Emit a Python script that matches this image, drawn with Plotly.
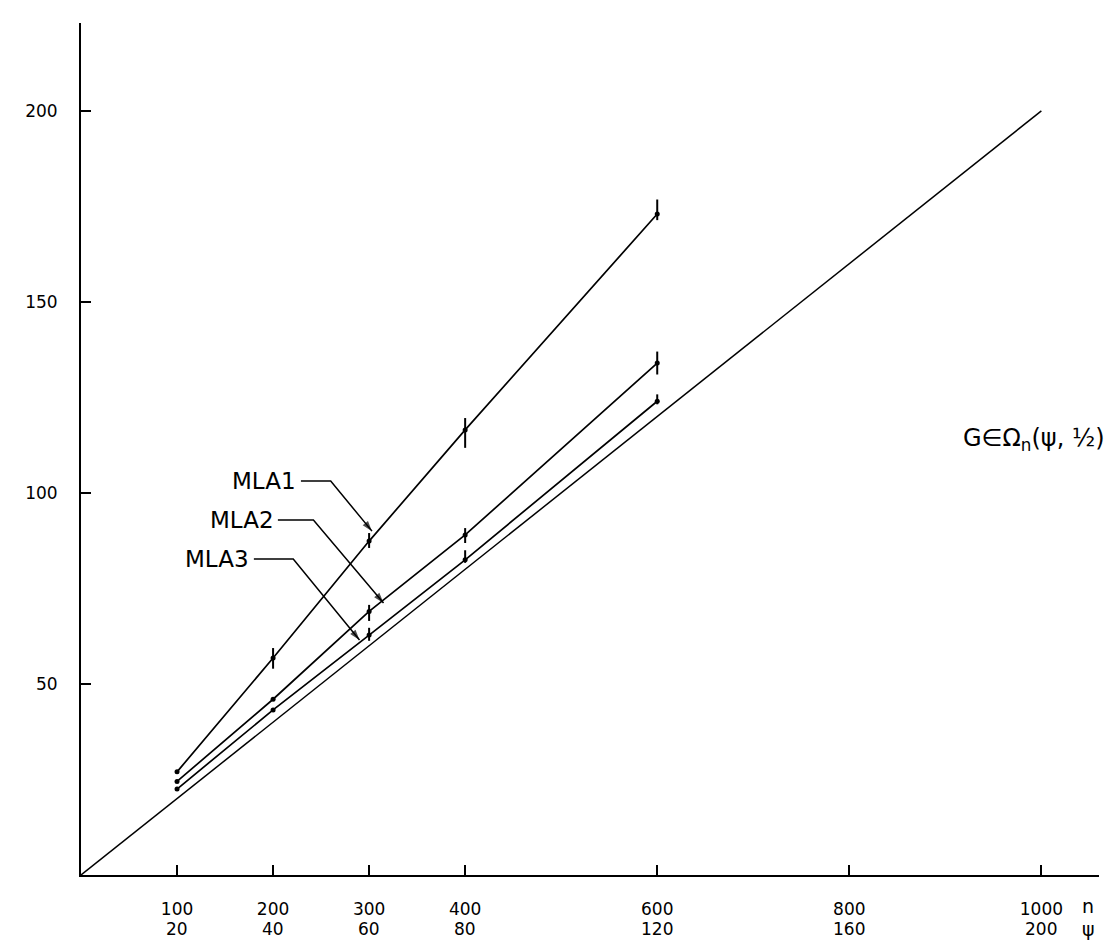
import plotly.graph_objects as go

# ---- data ----
n_vals = [100, 200, 300, 400, 600]
mla1 = [27.0, 56.8, 87.4, 116.5, 173.0]
mla1_up = [0, 2.6, 2.1, 3.1, 3.8]
mla1_dn = [0, 2.8, 1.8, 4.7, 1.6]
mla2 = [24.5, 46.0, 69.0, 89.0, 134.0]
mla2_up = [0, 0, 1.7, 1.8, 3.0]
mla2_dn = [0, 0, 2.5, 2.1, 3.0]
mla3 = [22.5, 43.2, 62.8, 82.5, 124.0]
mla3_up = [0, 0, 1.9, 2.5, 1.8]
mla3_dn = [0, 0, 1.5, 0.8, 0.8]
ref_n = [0, 1000]
ref_g = [0, 200]

x_ticks = [100, 200, 300, 400, 600, 800, 1000]
x_tick_n = ["100", "200", "300", "400", "600", "800", "1000"]
x_tick_psi = ["20", "40", "60", "80", "120", "160", "200"]
y_ticks = [50, 100, 150, 200]
y_tick_text = ["50", "100", "150", "200"]

FONT = "DejaVu Sans"
fig = go.Figure()

fig.add_trace(go.Scatter(x=ref_n, y=ref_g, mode="lines",
                         line=dict(color="black", width=1.5), showlegend=False))
for ys, up, dn in [(mla1, mla1_up, mla1_dn), (mla2, mla2_up, mla2_dn), (mla3, mla3_up, mla3_dn)]:
    fig.add_trace(go.Scatter(
        x=n_vals, y=ys, mode="lines+markers",
        line=dict(color="black", width=1.7),
        marker=dict(color="black", size=5),
        error_y=dict(type="data", symmetric=False, array=up, arrayminus=dn,
                     color="black", thickness=2, width=0),
        showlegend=False))

# labels with leader lines (label text, text anchor, elbow, arrow tip)
labels = [
    ("MLA1", 226, 103.1, 229, 260, 303, 90.0),
    ("MLA2", 203, 92.9, 205, 242, 315, 71.2),
    ("MLA3", 177, 82.7, 180, 221, 290, 61.5),
]
for txt, tx, ty, hx0, hx1, ax_tip, ay_tip in labels:
    fig.add_annotation(x=tx, y=ty, text=txt, showarrow=False, xanchor="right",
                       yanchor="middle", font=dict(family=FONT, size=23, color="black"))
    fig.add_trace(go.Scatter(
        x=[hx0, hx1, ax_tip], y=[ty, ty, ay_tip], mode="lines+markers",
        line=dict(color="black", width=1.5),
        marker=dict(symbol="arrow", size=[0, 0, 11], angleref="previous",
                    color="black", line=dict(width=0)),
        hoverinfo="skip", showlegend=False))

fig.add_annotation(x=1.008, xref="paper", y=114, text="G∈Ω<sub>n</sub>(ψ, ½)",
                   showarrow=False, xanchor="right",
                   font=dict(family=FONT, size=24, color="black"))

# second row of x labels and axis names
for xv, t in zip(x_ticks, x_tick_psi):
    fig.add_annotation(x=xv, y=0, yref="y", text=t, showarrow=False, yshift=-54,
                       font=dict(family=FONT, size=17, color="black"))
fig.add_annotation(x=1040, y=0, text="n", showarrow=False, yshift=-31, xanchor="left",
                   font=dict(family=FONT, size=19, color="black"))
fig.add_annotation(x=1040, y=0, text="ψ", showarrow=False, yshift=-54, xanchor="left",
                   font=dict(family=FONT, size=19, color="black"))

fig.update_xaxes(range=[0, 1060], tickvals=x_ticks, ticktext=x_tick_n,
                 showgrid=False, zeroline=False, showline=True, linecolor="black",
                 linewidth=2, ticks="inside", ticklen=10, tickwidth=1.5,
                 tickcolor="black", ticklabelstandoff=18,
                 tickfont=dict(family=FONT, size=17, color="black"))
fig.update_yaxes(range=[0, 223], tickvals=y_ticks, ticktext=y_tick_text,
                 showgrid=False, zeroline=False, showline=True, linecolor="black",
                 linewidth=2, ticks="inside", ticklen=10, tickwidth=1.5,
                 tickcolor="black", ticklabelstandoff=18,
                 tickfont=dict(family=FONT, size=17, color="black"))

fig.update_layout(width=1115, height=942, plot_bgcolor="white", paper_bgcolor="white",
                  margin=dict(l=73, r=24, t=15, b=75), showlegend=False)

fig.write_html("out.html")
